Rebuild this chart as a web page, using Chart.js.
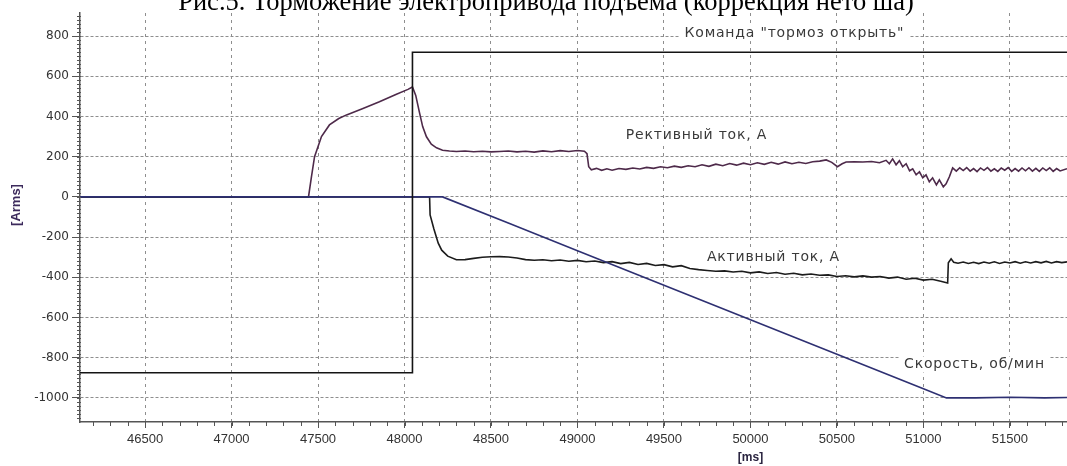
<!DOCTYPE html>
<html lang="ru">
<head>
<meta charset="utf-8">
<title>Торможение электропривода подъема</title>
<script src="https://cdn.jsdelivr.net/npm/chart.js@4/dist/chart.umd.min.js"></script>
<style>
  html, body { margin: 0; padding: 0; background: #fff; }
  #wrap { width: 1067px; height: 466px; }
</style>
</head>
<body>
<div id="wrap"><canvas id="chart" width="1067" height="466"></canvas></div>
<script>
// ============================================
// DATA
// ============================================

const chartTitle = 'Рис.5. Торможение электропривода подъема (коррекция нето ша)';
const xAxisTitle = '[ms]';
const yAxisTitle = '[Arms]';

const xTicks = [46500, 47000, 47500, 48000, 48500, 49000, 49500, 50000, 50500, 51000, 51500];
const yTicks = [-1000, -800, -600, -400, -200, 0, 200, 400, 600, 800];

// Команда "тормоз открыть"
const commandTime  = [46124, 48046, 48046, 51830];
const commandValue = [-875, -875, 720, 720];

// Рективный ток, А
const reactiveTime = [
    46124, 47445, 47462, 47480, 47520, 47566, 47620, 47665, 47760, 47855,
    47950, 48020, 48046, 48065, 48087, 48105, 48127, 48155, 48185, 48220,
    48260, 48300, 48350, 48400, 48450, 48500, 48550, 48600, 48650, 48700,
    48750, 48800, 48850, 48900, 48950, 49000, 49040, 49055, 49065, 49080,
    49110, 49140, 49170, 49200, 49240, 49280, 49320, 49360, 49400, 49440,
    49480, 49520, 49560, 49600, 49640, 49680, 49720, 49760, 49800, 49840,
    49880, 49920, 49960, 50000, 50040, 50080, 50120, 50160, 50200, 50240,
    50280, 50320, 50360, 50400, 50438, 50470, 50503, 50530, 50553, 50600,
    50650, 50700, 50746, 50784, 50803, 50822, 50842, 50861, 50880, 50900,
    50920, 50938, 50958, 50977, 50996, 51015, 51034, 51053, 51075, 51092,
    51115, 51131, 51150, 51169, 51190, 51210, 51230, 51250, 51270, 51290,
    51310, 51330, 51350, 51370, 51390, 51410, 51430, 51450, 51470, 51490,
    51510, 51530, 51550, 51570, 51590, 51610, 51630, 51650, 51670, 51690,
    51710, 51730, 51750, 51770, 51790, 51830
];
const reactiveValue = [
    0, 0, 100, 200, 300, 358, 390, 408, 440, 473,
    510, 535, 547, 505, 418, 350, 299, 262, 244, 232,
    228, 226, 228, 225, 227, 224, 226, 228, 224, 227,
    223, 229, 225, 230, 226, 231, 227, 215, 150, 135,
    142, 132, 140, 133, 141, 137, 144, 139, 147, 142,
    150, 145, 153, 147, 155, 150, 160, 152, 163, 155,
    166, 158, 168, 160, 170, 162, 172, 163, 174, 165,
    172, 166, 175, 178, 184, 172, 150, 165, 174, 175,
    174, 176, 170, 182, 165, 189, 160, 180, 150, 165,
    130, 140, 110, 125, 95, 110, 75, 95, 60, 85,
    50, 65, 100, 144, 128, 145, 131, 146, 128, 141,
    126, 144, 132, 146, 128, 140, 127, 144, 133, 146,
    127, 141, 128, 144, 130, 145, 128, 142, 127, 144,
    131, 145, 127, 141, 129, 140
];

// Активный ток, А
const activeTime = [
    46124, 48145, 48148, 48170, 48195, 48215, 48250, 48300, 48350, 48400,
    48450, 48500, 48550, 48600, 48650, 48700, 48750, 48800, 48850, 48900,
    48950, 49000, 49050, 49100, 49150, 49200, 49250, 49300, 49350, 49400,
    49450, 49500, 49550, 49600, 49650, 49700, 49750, 49800, 49850, 49900,
    49950, 50000, 50050, 50100, 50150, 50200, 50250, 50300, 50350, 50400,
    50450, 50500, 50550, 50600, 50650, 50700, 50750, 50800, 50850, 50900,
    50950, 51000, 51050, 51100, 51140, 51144, 51160, 51175, 51200, 51230,
    51260, 51290, 51320, 51350, 51380, 51410, 51440, 51470, 51500, 51530,
    51560, 51590, 51620, 51650, 51680, 51710, 51740, 51770, 51800, 51830
];
const activeValue = [
    0, 0, -90, -160, -230, -265, -295, -313, -312, -306,
    -300, -298, -297, -299, -304, -312, -315, -313, -318, -314,
    -320, -316, -323, -319, -327, -322, -332, -326, -336, -331,
    -341, -337, -348, -342, -356, -362, -366, -370, -368, -374,
    -370, -378, -373, -381, -376, -385, -380, -388, -384, -390,
    -388, -396, -392, -398, -393, -399, -396, -404, -399, -410,
    -405, -414, -410, -420, -428, -328, -308, -325, -330, -324,
    -331, -325, -332, -324, -330, -323, -331, -324, -329, -322,
    -330, -323, -329, -322, -328, -321, -329, -322, -327, -323
];

// Скорость, об/мин
const speedTime  = [46124, 48220, 48600, 49000, 49500, 50000, 50500, 51000, 51133, 51300, 51500, 51700, 51830];
const speedValue = [0, 0, -130, -268, -440, -611, -783, -955, -1000, -1000, -997, -1000, -998];

// Подписи на графике
const noteTexts = ['Команда "тормоз открыть"', 'Рективный ток, А', 'Активный ток, А', 'Скорость, об/мин'];
const noteTime  = [50254, 49688, 50133, 51295];
const noteValue = [815, 308, -303, -834];

// ============================================
// HELPERS
// ============================================

function toPoints(times, values) {
    const points = [];
    for (let i = 0; i < times.length; i++) {
        points.push({ x: times[i], y: values[i] });
    }
    return points;
}

function lineSet(label, times, values, color) {
    return {
        label,
        data: toPoints(times, values),
        borderColor: color,
        backgroundColor: color,
        borderWidth: 1.6,
        pointRadius: 0,
        tension: 0,
        fill: false
    };
}

// ============================================
// PLUGINS
// ============================================

const noteBoxes = {
    id: 'noteBoxes',
    beforeDatasetsDraw(chart) {
        const { ctx, scales: { x, y } } = chart;
        ctx.save();
        ctx.font = '14px "DejaVu Sans"';
        if ('letterSpacing' in ctx) ctx.letterSpacing = '0.8px';
        ctx.textAlign = 'center';
        ctx.textBaseline = 'middle';
        for (let i = 0; i < noteTexts.length; i++) {
            const px = x.getPixelForValue(noteTime[i]);
            const py = y.getPixelForValue(noteValue[i]);
            const w = ctx.measureText(noteTexts[i]).width;
            ctx.fillStyle = '#fff';
            ctx.fillRect(px - w / 2 - 5, py - 8, w + 10, 16);
            ctx.fillStyle = '#3a3a3a';
            ctx.fillText(noteTexts[i], px, py);
        }
        ctx.restore();
    }
};

const frameExtras = {
    id: 'frameExtras',
    afterDraw(chart) {
        const { ctx, scales: { x, y } } = chart;
        ctx.save();

        // minor ticks
        ctx.strokeStyle = '#555';
        ctx.lineWidth = 1;
        ctx.beginPath();
        for (let v = -1100; v <= 900; v += 20) {
            const py = Math.round(y.getPixelForValue(v)) + 0.5;
            ctx.moveTo(x.left - 3, py);
            ctx.lineTo(x.left + 1, py);
        }
        for (let v = 46200; v <= 51800; v += 100) {
            const px = Math.round(x.getPixelForValue(v)) + 0.5;
            ctx.moveTo(px, y.bottom);
            ctx.lineTo(px, y.bottom + 4);
        }
        ctx.stroke();

        // title
        ctx.fillStyle = '#000';
        ctx.font = '26.5px "Liberation Serif"';
        ctx.textAlign = 'center';
        ctx.textBaseline = 'alphabetic';
        ctx.fillText(chartTitle, 546, 10);

        // axis titles
        ctx.fillStyle = '#2a2440';
        ctx.font = 'bold 12px "Liberation Sans"';
        ctx.textBaseline = 'middle';
        ctx.fillText(xAxisTitle, x.getPixelForValue(50000), 458);

        ctx.translate(16, 205);
        ctx.rotate(-Math.PI / 2);
        ctx.fillStyle = '#3c2a5c';
        ctx.font = 'bold 13px "Liberation Sans"';
        ctx.fillText(yAxisTitle, 0, 0);

        ctx.restore();
    }
};

// ============================================
// CHART
// ============================================

const ctx = document.getElementById('chart').getContext('2d');

new Chart(ctx, {
    type: 'line',

    data: {
        datasets: [
            lineSet('Команда "тормоз открыть"', commandTime, commandValue, '#141414'),
            lineSet('Скорость, об/мин', speedTime, speedValue, '#2e3072'),
            lineSet('Активный ток, А', activeTime, activeValue, '#1c1c1c'),
            lineSet('Рективный ток, А', reactiveTime, reactiveValue, '#4e2a4a')
        ]
    },

    options: {
        responsive: false,
        devicePixelRatio: 1,
        animation: false,

        layout: {
            padding: { top: 13, right: 0, left: 0, bottom: 0 }
        },

        plugins: {
            legend: { display: false },
            tooltip: { enabled: false },
            title: { display: false }
        },

        scales: {
            x: {
                type: 'linear',
                min: 46124,
                max: 51830,
                afterBuildTicks(scale) {
                    scale.ticks = xTicks.map(v => ({ value: v }));
                },
                afterFit(scale) {
                    scale.height = 44;
                },
                grid: {
                    color: '#8e8e8e',
                    lineWidth: 1,
                    tickColor: '#555',
                    tickLength: 6
                },
                border: {
                    display: true,
                    color: '#555',
                    width: 1.5,
                    dash: [3, 4]
                },
                ticks: {
                    autoSkip: false,
                    maxRotation: 0,
                    padding: 4,
                    color: '#333',
                    font: { family: '"Liberation Sans Narrow", "Liberation Sans"', size: 13 },
                    callback(value) {
                        return String(value);
                    }
                }
            },

            y: {
                type: 'linear',
                min: -1120,
                max: 915,
                afterBuildTicks(scale) {
                    scale.ticks = yTicks.map(v => ({ value: v }));
                },
                afterFit(scale) {
                    scale.width = 80;
                },
                grid: {
                    color: '#8e8e8e',
                    lineWidth: 1,
                    tickColor: '#555',
                    tickLength: 8
                },
                border: {
                    display: true,
                    color: '#555',
                    width: 1.5,
                    dash: [3, 2]
                },
                ticks: {
                    padding: 3,
                    color: '#333',
                    font: { family: '"DejaVu Sans"', size: 12 },
                    callback(value) {
                        return String(value);
                    }
                }
            }
        }
    },

    plugins: [noteBoxes, frameExtras]
});
</script>
</body>
</html>
